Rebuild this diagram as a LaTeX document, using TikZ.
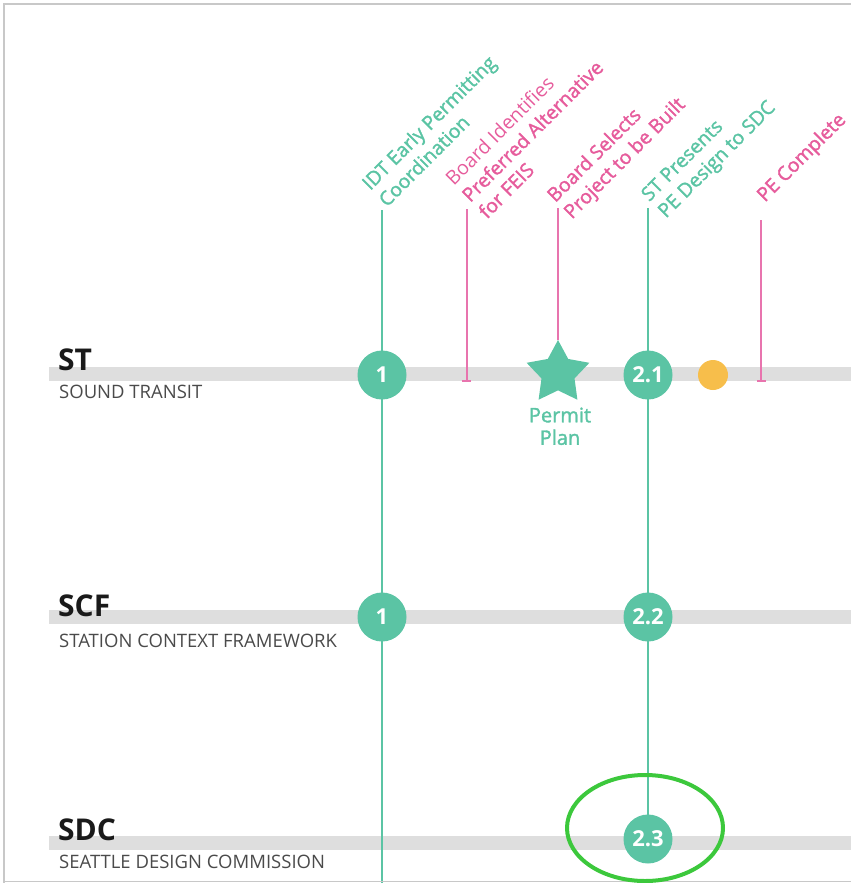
\documentclass[tikz,border=0pt]{standalone}
\usepackage{fontspec}
\setmainfont{Open Sans}
\newfontfamily\semibold{Open Sans}[FakeBold=1.6]
\usetikzlibrary{shapes.geometric,arrows.meta}

\definecolor{stgreen}{HTML}{5BC4A4}
\definecolor{stpink}{HTML}{E65C9C}
\definecolor{pinkline}{HTML}{E874AE}
\definecolor{bargray}{HTML}{DEDEDE}
\definecolor{dotyellow}{HTML}{F7BE4B}
\definecolor{ringgreen}{HTML}{3CC83C}
\definecolor{framegray}{HTML}{C8C8C8}
\definecolor{subgray}{HTML}{4A4A4A}
\definecolor{titleblack}{HTML}{1A1A1A}

\pgfdeclarelayer{bars}
\pgfdeclarelayer{lines}
\pgfsetlayers{bars,lines,main}

\begin{document}
\begin{tikzpicture}[x=1pt,y=-1pt,
  trackbar/.style={draw=bargray,line width=14pt},
  rowtitle/.style={anchor=base west,inner sep=0pt,text=titleblack,
    font=\bfseries\fontsize{30}{32}\selectfont},
  rowsub/.style={anchor=base west,inner sep=0pt,text=subgray,
    font=\fontsize{18.5}{20}\selectfont},
  numdot/.style={circle,fill=stgreen,text=white,minimum size=49pt,inner sep=0pt,
    font=\bfseries\fontsize{22}{24}\selectfont},
  milestone/.style={rotate=45,anchor=south west,align=left,inner sep=0pt,
    text depth=0pt,font=\semibold\fontsize{19.5}{23.5}\selectfont},
  greenline/.style={draw=stgreen,line width=2pt},
  pinkrule/.style={draw=pinkline,line width=2pt},
  tickend/.style={-{Bar[width=9pt,line width=2pt]}},
]
\useasboundingbox (0,0) rectangle (851,883);

% page frame
\draw[framegray,line width=1.5pt] (4,883) -- (4,4) -- (851,4);
\draw[framegray,line width=1pt] (4,881.5) -- (851,881.5);

% swim-lane bars
\begin{pgfonlayer}{bars}
  \draw[trackbar] (49,374) -- (851,374);
  \draw[trackbar] (49,617) -- (851,617);
  \draw[trackbar] (49,843) -- (851,843);
\end{pgfonlayer}

% lane titles
\node[rowtitle] (stT) at (58,370) {ST};
\node[rowsub] (stS) at (59,398) {SOUND TRANSIT};
\node[rowtitle] (scfT) at (58,616) {SCF};
\node[rowsub] (scfS) at (59,647) {STATION CONTEXT FRAMEWORK};
\node[rowtitle] (sdcT) at (58,840) {SDC};
\node[rowsub] (sdcS) at (59,868) {SEATTLE DESIGN COMMISSION};

% ends of the milestone rules
\coordinate (idtTop) at (382,210);
\coordinate (idtEnd) at (382,883);
\coordinate (bidTop) at (466.5,209);
\coordinate (bidEnd) at (466.5,382);
\coordinate (bselTop) at (558,208);
\coordinate (stpTop) at (648,208);
\coordinate (pecTop) at (761,220);
\coordinate (pecEnd) at (761,382);

% milestone markers
\node[numdot] (st1) at (382,375) {1};
\node[numdot] (scf1) at (382,617) {1};
\node[numdot] (st21) at (648,375) {2.1};
\node[numdot] (scf22) at (648,617) {2.2};
\node[numdot] (sdc23) at (648,839) {2.3};
\node[star,star points=5,star point ratio=1.9,fill=stgreen,minimum size=66pt,
  inner sep=0pt] (permit) at (558,373) {};
\node[circle,fill=dotyellow,minimum size=30pt,inner sep=0pt] (ydot) at (713,375) {};
\node[anchor=south,align=center,inner sep=0pt,text depth=0pt,text=stgreen,
  font=\semibold\fontsize{20}{22.5}\selectfont] (permitText) at (560,445) {Permit\\Plan};

% vertical rules
\begin{pgfonlayer}{lines}
  \draw[greenline] (idtTop) -- (idtEnd);
  \draw[greenline] (stpTop) -- (sdc23.center);
  \draw[pinkrule,tickend] (bidTop) -- (bidEnd);
  \draw[pinkrule] (bselTop) -- (permit.north);
  \draw[pinkrule,tickend] (pecTop) -- (pecEnd);
\end{pgfonlayer}

% milestone captions
\node[milestone,text=stgreen] (idt) at (387,208) {IDT Early Permitting\\Coordination};
\node[milestone,text=stpink] (bid) at (487,220)
  {{\rmfamily Board Identifies}\\Preferred Alternative\\for FEIS};
\node[milestone,text=stpink] (bsel) at (572,220) {Board Selects\\Project to be Built};
\node[milestone,text=stgreen] (stp) at (666,219) {ST Presents\\PE Design to SDC};
\node[milestone,text=stpink] (pec) at (765,203) {PE Complete};

% highlight ring
\node[draw=ringgreen,line width=4pt,ellipse,minimum width=156pt,minimum height=106pt,
  inner sep=0pt] (focus) at (645,828) {};
\end{tikzpicture}
\end{document}
